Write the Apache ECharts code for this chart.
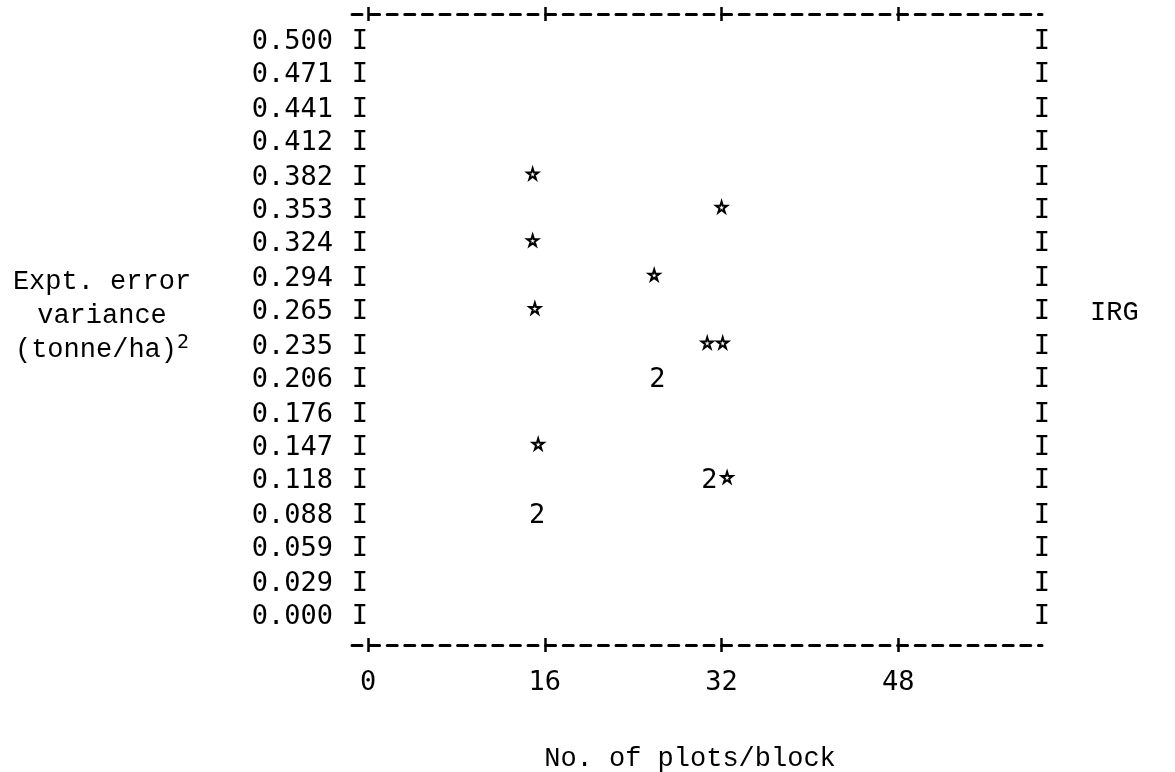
<!DOCTYPE html>
<html>
<head>
<meta charset="utf-8">
<script src="https://cdn.jsdelivr.net/npm/echarts@6/dist/echarts.min.js"></script>
<style>html,body{margin:0;padding:0;background:#fff}#c{width:1175px;height:772px}</style>
</head>
<body>
<div id="c"></div>
<script>
// ---- data ----
const xTickValues = [0, 16, 32, 48];
const yTickLabels = ['0.500','0.471','0.441','0.412','0.382','0.353','0.324','0.294','0.265',
                     '0.235','0.206','0.176','0.147','0.118','0.088','0.059','0.029','0.000'];
const pointX     = [14.9, 32.0, 14.9, 25.9, 15.1, 30.7, 32.1, 26.2, 15.4, 30.9, 32.5, 15.3];
const pointY     = [0.382, 0.353, 0.324, 0.294, 0.265, 0.235, 0.235, 0.206, 0.147, 0.118, 0.118, 0.088];
const pointCount = [1, 1, 1, 1, 1, 1, 1, 2, 1, 2, 1, 2];
const yTitle = ['Expt. error', 'variance', '(tonne/ha){sup|2}'];
const xTitle = 'No. of plots/block';
const rightLabel = 'IRG';

const yTickValues = yTickLabels.map(Number);
const singles = [], multiples = [];
pointX.forEach((x, i) => {
  if (pointCount[i] === 1) singles.push([x, pointY[i]]);
  else multiples.push([x, pointY[i], pointCount[i]]);
});

const FONT = 'DejaVu Sans Mono';
const TFONT = 'Liberation Mono';
const FS = 27;
const STAR = 'path://M50,0 L61,35 L98,35 L68,57 L79,91 L50,70 L21,91 L32,57 L2,35 L39,35 Z';

const xBase = { type: 'value', min: -1.45, max: 61, splitLine: { show: false } };
function frameAxis(pos, inside, withLine, withLabels, extra) {
  return Object.assign({}, xBase, {
    position: pos, offset: 28,
    axisLine: { show: withLine, onZero: false, lineStyle: { color: '#000', width: 3, type: [10, 7.6] } },
    axisTick: { show: true, inside: inside, length: 7, customValues: xTickValues,
                lineStyle: { color: '#000', width: 2.5 } },
    axisLabel: withLabels ? { show: true, customValues: xTickValues, margin: 24,
                color: '#000', fontFamily: FONT, fontSize: FS } : { show: false }
  }, extra || {});
}

const yBase = { type: 'value', min: 0, max: 0.5, splitLine: { show: false },
                axisLine: { show: false, onZero: false }, axisTick: { show: false } };

const chart = echarts.init(document.getElementById('c'), null, { renderer: 'canvas' });
chart.setOption({
  backgroundColor: '#fff',
  animation: false,
  grid: { left: 352, right: 133, top: 42, bottom: 155, containLabel: false, outerBoundsMode: 'none' },
  xAxis: [
    frameAxis('bottom', false, true, true, {
      name: xTitle, nameLocation: 'middle', nameGap: 100,
      nameTextStyle: { color: '#000', fontFamily: TFONT, fontSize: FS, padding: [0, 14, 0, 0] }
    }),
    frameAxis('bottom', true, false, false),
    frameAxis('top', false, true, false),
    frameAxis('top', true, false, false)
  ],
  yAxis: [
    Object.assign({}, yBase, { position: 'left',
      axisLabel: { customValues: yTickValues, margin: 19, color: '#000', fontFamily: FONT, fontSize: FS,
                   formatter: v => v.toFixed(3) } }),
    Object.assign({}, yBase, { position: 'left',
      axisLabel: { customValues: yTickValues, margin: -8, align: 'center', color: '#000', fontFamily: FONT, fontSize: FS,
                   formatter: () => 'I' } }),
    Object.assign({}, yBase, { position: 'right',
      axisLabel: { customValues: yTickValues, margin: 0, align: 'center', color: '#000', fontFamily: FONT, fontSize: FS,
                   formatter: () => 'I' } })
  ],
  graphic: [
    { type: 'text', x: 102, y: 316, style: {
        text: yTitle.join('\n'), fill: '#000', font: FS + 'px "' + TFONT + '"',
        align: 'center', verticalAlign: 'middle', lineHeight: 34,
        rich: { sup: { fontSize: 20, fontFamily: FONT, fill: '#000', verticalAlign: 'top', lineHeight: 34, padding: [0,0,14,0] } }
      } },
    { type: 'text', x: 1090, y: 313, style: { text: rightLabel, fill: '#000', font: FS + 'px "' + TFONT + '"', verticalAlign: 'middle' } }
  ],
  series: [
    { type: 'scatter', xAxisIndex: 0, yAxisIndex: 0, data: singles,
      symbol: STAR, symbolSize: 11, symbolOffset: [0, -4],
      itemStyle: { color: '#fff', borderColor: '#000', borderWidth: 2, opacity: 1 } },
    { type: 'scatter', xAxisIndex: 0, yAxisIndex: 0, data: multiples,
      symbolSize: 2, itemStyle: { color: 'rgba(0,0,0,0)', opacity: 1 },
      label: { show: true, position: 'inside', formatter: p => String(p.value[2]),
               color: '#000', opacity: 1, fontFamily: FONT, fontSize: FS } }
  ]
});
</script>
</body>
</html>
